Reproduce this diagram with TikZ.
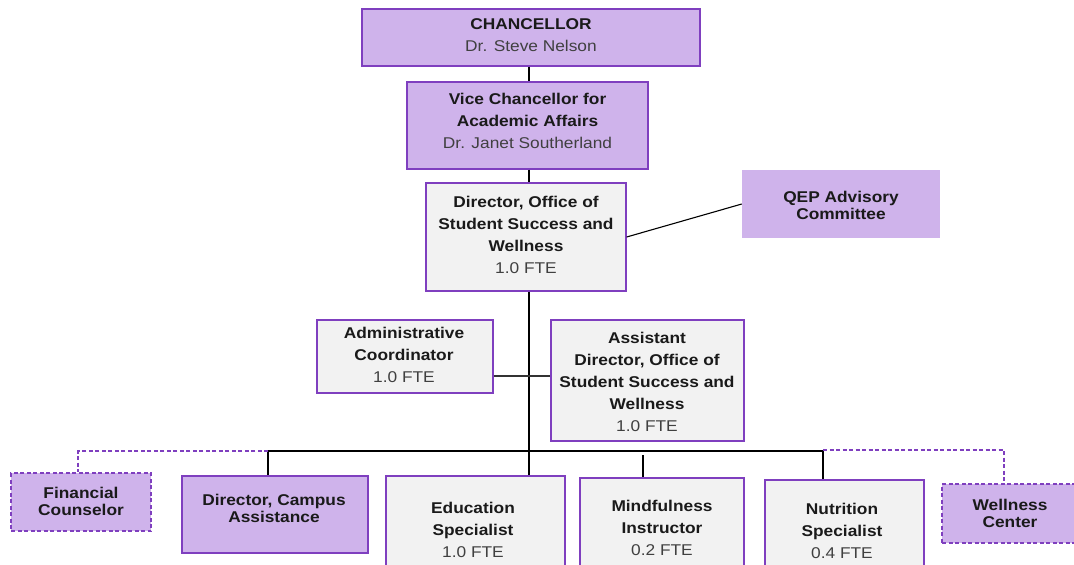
\documentclass[tikz,border=0pt]{standalone}
\usepackage{fontspec}
\setmainfont{Liberation Sans}[FakeStretch=1.11]
\definecolor{lav}{HTML}{CFB3EB}
\definecolor{pur}{HTML}{7F3FBF}
\definecolor{lgray}{HTML}{F2F2F2}
\definecolor{nmgray}{HTML}{404040}
\definecolor{ink}{HTML}{1A1A1A}
\begin{document}
\begin{tikzpicture}[x=1pt,y=-1pt,
  box/.style={draw=pur, line width=1.3pt, rectangle, inner sep=0pt},
  lavbox/.style={box, fill=lav},
  graybox/.style={box, fill=lgray},
  dashbox/.style={lavbox, dash pattern=on 4pt off 2.5pt},
  plainbox/.style={rectangle, fill=lav, inner sep=0pt},
  txt/.style={align=center, text=ink, font=\fontsize{15.6}{22}\selectfont\bfseries, inner sep=0pt},
  tight/.style={txt, font=\fontsize{15.6}{17}\selectfont\bfseries},
  link/.style={draw=black, line width=1.3pt},
  dlink/.style={draw=pur, line width=1.3pt, dash pattern=on 4pt off 2.5pt}]
\useasboundingbox[fill=white] (0,0) rectangle (1074,565);
\newcommand{\nmline}[1]{\textcolor{nmgray}{\mdseries #1}}
% boxes
\node[lavbox, minimum width=338pt, minimum height=57pt] (ch) at (531,37.5) {};
\node[lavbox, minimum width=241pt, minimum height=87pt] (vc) at (527.5,125.5) {};
\node[graybox, minimum width=200pt, minimum height=108pt] (dir) at (526,237) {};
\node[plainbox, minimum width=198pt, minimum height=68pt] (qep) at (841,204) {};
\node[graybox, minimum width=176pt, minimum height=73pt] (adm) at (405,356.5) {};
\node[graybox, minimum width=193pt, minimum height=121pt] (asst) at (647.5,380.5) {};
\node[dashbox, minimum width=140pt, minimum height=58pt] (fin) at (81,502) {};
\node[lavbox, minimum width=186pt, minimum height=77pt] (dca) at (275,514.5) {};
\node[graybox, minimum width=179pt, minimum height=124pt] (edu) at (475.5,538) {};
\node[graybox, minimum width=164pt, minimum height=122pt] (mind) at (662,539) {};
\node[graybox, minimum width=159pt, minimum height=120pt] (nut) at (844.5,540) {};
\node[dashbox, minimum width=148pt, minimum height=59pt] (wel) at (1016,513.5) {};
% texts
\node[txt] (chT) at (531,35) {CHANCELLOR\\\nmline{Dr. Steve Nelson}};
\node[txt] (vcT) at (527.5,120.5) {Vice Chancellor for\\Academic Affairs\\\nmline{Dr. Janet Southerland}};
\node[txt] (dirT) at (526,234.5) {Director, Office of\\Student Success and\\Wellness\\\nmline{1.0 FTE}};
\node[tight] (qepT) at (841,205) {QEP Advisory\\Committee};
\node[txt] (admT) at (404,354.5) {Administrative\\Coordinator\\\nmline{1.0 FTE}};
\node[txt] (asstT) at (647,381.5) {Assistant\\Director, Office of\\Student Success and\\Wellness\\\nmline{1.0 FTE}};
\node[tight] (finT) at (81,501.5) {Financial\\Counselor};
\node[tight] (dcaT) at (274,508.5) {Director, Campus\\Assistance};
\node[txt] (eduT) at (473,529.5) {Education\\Specialist\\\nmline{1.0 FTE}};
\node[txt] (mindT) at (662,527.5) {Mindfulness\\Instructor\\\nmline{0.2 FTE}};
\node[txt] (nutT) at (842,531) {Nutrition\\Specialist\\\nmline{0.4 FTE}};
\node[tight] (welT) at (1010,513.5) {Wellness\\Center};
% connectors
\coordinate (spine) at (529,300);
\coordinate (busL) at (268,451);
\coordinate (busR) at (823,451);
\coordinate (mindtap) at (643,455);
\coordinate (aa) at (0,376);
\coordinate (finTap) at (78,451);
\coordinate (welTap) at (1004,450);
\draw[link] (ch.south -| spine) -- (vc.north -| spine);
\draw[link] (vc.south -| spine) -- (dir.north -| spine);
\draw[link] (dir.south -| spine) -- (edu.north -| spine);
\draw[link, line width=1.1pt] (dir.east) -- (qep.west);
\draw[link, draw=black!80, line width=1.6pt] (adm.east |- aa) -- (asst.west |- aa);
\draw[link] (busL) -- (busR);
\draw[link] (busL) -- (busL |- dca.north);
\draw[link] (busR) -- (busR |- nut.north);
\draw[link] (mindtap) -- (mindtap |- mind.north);
\draw[dlink] (busL) -- (finTap) -- (finTap |- fin.north);
\draw[dlink] (busR |- welTap) -- (welTap) -- (welTap |- wel.north);
\end{tikzpicture}
\end{document}
